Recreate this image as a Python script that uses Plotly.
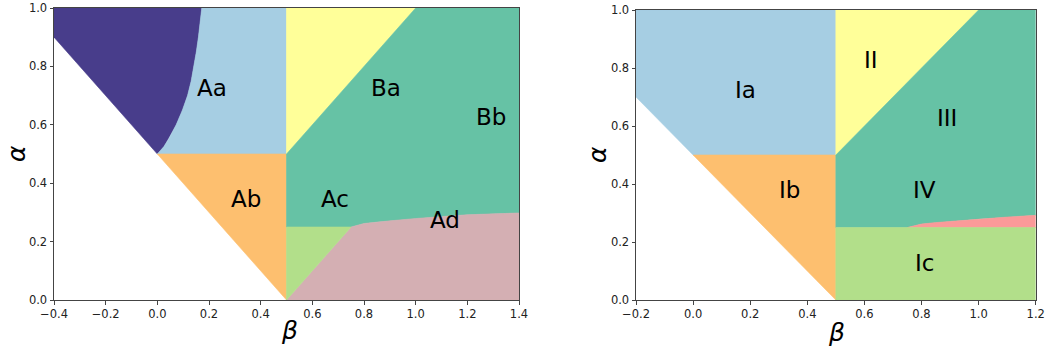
import plotly.graph_objects as go

# ---------------- data ----------------
# boundary curve separating dark region from Aa (beta as function of alpha)
curve1_alpha = [0.5, 0.525, 0.55, 0.6, 0.65, 0.7, 0.75, 0.8, 0.85, 0.9, 0.95, 1.0]
curve1_beta = [0.0, 0.025, 0.043, 0.073, 0.097, 0.117, 0.131, 0.142, 0.151, 0.159, 0.166, 0.172]

# lower curve (Ad / pink region upper boundary)
curve2_beta = [0.75, 0.8, 0.85, 0.9, 1.0, 1.1, 1.2, 1.3, 1.4]
curve2_alpha = [0.25, 0.262, 0.267, 0.271, 0.279, 0.286, 0.292, 0.295, 0.298]

# left panel labels
left_labels = ["Aa", "Ab", "Ba", "Bb", "Ac", "Ad"]
left_label_beta = [0.21, 0.343, 0.885, 1.29, 0.688, 1.114]
left_label_alpha = [0.726, 0.346, 0.726, 0.627, 0.346, 0.274]

# right panel labels
right_labels = ["Ia", "Ib", "II", "III", "IV", "Ic"]
right_label_beta = [0.185, 0.339, 0.623, 0.889, 0.809, 0.809]
right_label_alpha = [0.724, 0.379, 0.828, 0.628, 0.379, 0.128]

left_xticks = [-0.4, -0.2, 0.0, 0.2, 0.4, 0.6, 0.8, 1.0, 1.2, 1.4]
right_xticks = [-0.2, 0.0, 0.2, 0.4, 0.6, 0.8, 1.0, 1.2]
yticks = [0.0, 0.2, 0.4, 0.6, 0.8, 1.0]

# region corner values
L_XMIN, L_XMAX = -0.4, 1.4
R_XMIN, R_XMAX = -0.2, 1.2

C_DARK = "#483D8B"
C_BLUE = "#A6CEE3"
C_ORANGE = "#FDBF6F"
C_YELLOW = "#FFFF99"
C_TEAL = "#66C2A5"
C_GREEN = "#B2DF8A"
C_MAUVE = "#D4AFB3"
C_PINK = "#FB9A99"

W, H = 1045, 352

fig = go.Figure()


def poly(xs, ys, color, xa, ya):
    fig.add_trace(go.Scatter(
        x=xs + [xs[0]], y=ys + [ys[0]], mode="lines", fill="toself",
        fillcolor=color, line=dict(color=color, width=0.6),
        xaxis=xa, yaxis=ya, hoverinfo="skip", showlegend=False))


# ---------------- left panel ----------------
xa, ya = "x", "y"
# dark region
xs = [L_XMIN, L_XMIN] + curve1_beta[::-1]
ys = [0.5 - L_XMIN, 1.0] + curve1_alpha[::-1]
poly(xs, ys, C_DARK, xa, ya)
# Aa
xs = curve1_beta + [0.5, 0.5]
ys = curve1_alpha + [1.0, 0.5]
poly(xs, ys, C_BLUE, xa, ya)
# Ab
poly([0.0, 0.5, 0.5], [0.5, 0.5, 0.0], C_ORANGE, xa, ya)
# Ba
poly([0.5, 0.5, 1.0], [0.5, 1.0, 1.0], C_YELLOW, xa, ya)
# teal (Bb / Ac)
xs = [0.5, 0.5, 1.0, L_XMAX] + curve2_beta[::-1]
ys = [0.25, 0.5, 1.0, 1.0] + curve2_alpha[::-1]
poly(xs, ys, C_TEAL, xa, ya)
# Ad
xs = [0.5] + curve2_beta + [L_XMAX]
ys = [0.0] + curve2_alpha + [0.0]
poly(xs, ys, C_MAUVE, xa, ya)
# green triangle
poly([0.5, 0.5, 0.75], [0.0, 0.25, 0.25], C_GREEN, xa, ya)

# ---------------- right panel ----------------
xa, ya = "x2", "y2"
poly([R_XMIN, R_XMIN, 0.5, 0.5, 0.0], [0.5 - R_XMIN, 1.0, 1.0, 0.5, 0.5], C_BLUE, xa, ya)
poly([0.0, 0.5, 0.5], [0.5, 0.5, 0.0], C_ORANGE, xa, ya)
poly([0.5, 0.5, 1.0], [0.5, 1.0, 1.0], C_YELLOW, xa, ya)
cb = [b for b in curve2_beta if b <= R_XMAX]
ca = [a for b, a in zip(curve2_beta, curve2_alpha) if b <= R_XMAX]
xs = [0.5, 0.5, 1.0, R_XMAX] + cb[::-1]
ys = [0.25, 0.5, 1.0, 1.0] + ca[::-1]
poly(xs, ys, C_TEAL, xa, ya)
poly(cb + [R_XMAX], ca + [0.25], C_PINK, xa, ya)
poly([0.5, 0.5, R_XMAX, R_XMAX], [0.0, 0.25, 0.25, 0.0], C_GREEN, xa, ya)

# ---------------- labels ----------------
for t, b, a in zip(left_labels, left_label_beta, left_label_alpha):
    fig.add_annotation(x=b, y=a, xref="x", yref="y", text=t, showarrow=False,
                       xanchor="center", yanchor="middle",
                       font=dict(family="DejaVu Sans", size=23, color="black"))
for t, b, a in zip(right_labels, right_label_beta, right_label_alpha):
    fig.add_annotation(x=b, y=a, xref="x2", yref="y2", text=t, showarrow=False,
                       xanchor="center", yanchor="middle",
                       font=dict(family="DejaVu Sans", size=23, color="black"))

# axis titles
def px_x(p):
    return p / W


def px_y(p):
    return 1 - p / H


title_font = dict(family="DejaVu Sans", size=25, color="black")
for tx, px, py, ang in [("α", 16, 154, -90), ("β", 289, 330, 0),
                        ("α", 597, 155, -90), ("β", 836, 332, 0)]:
    fig.add_annotation(x=px_x(px), y=px_y(py), xref="paper", yref="paper",
                       text=f"<i>{tx}</i>", showarrow=False, textangle=ang,
                       xanchor="center", yanchor="middle", font=title_font)

axis_common = dict(
    showgrid=False, zeroline=False, showline=True, linecolor="#444", linewidth=1,
    ticks="outside", ticklen=3.5, tickwidth=0.8, tickcolor="#444",
    tickfont=dict(family="DejaVu Sans", size=11.5, color="#222"),
    mirror=True, layer="above traces", automargin=False,
)

fig.update_layout(
    width=W, height=H, margin=dict(l=0, r=0, t=0, b=0, autoexpand=False),
    paper_bgcolor="white", plot_bgcolor="white", showlegend=False,
    xaxis=dict(domain=[54 / W, 519 / W], range=[L_XMIN, L_XMAX], anchor="y",
               tickvals=left_xticks, ticktext=[f"{v:.1f}".replace("-", "\u2212") for v in left_xticks],
               **axis_common),
    yaxis=dict(domain=[1 - 300 / H, 1 - 8 / H], range=[0, 1], anchor="x",
               tickvals=yticks, ticktext=[f"{v:.1f}" for v in yticks], **axis_common),
    xaxis2=dict(domain=[636 / W, 1035.7 / W], range=[R_XMIN, R_XMAX], anchor="y2",
                tickvals=right_xticks, ticktext=[f"{v:.1f}".replace("-", "\u2212") for v in right_xticks],
                **axis_common),
    yaxis2=dict(domain=[1 - 300 / H, 1 - 10 / H], range=[0, 1], anchor="x2",
                tickvals=yticks, ticktext=[f"{v:.1f}" for v in yticks], **axis_common),
)

fig.write_html("out.html")
